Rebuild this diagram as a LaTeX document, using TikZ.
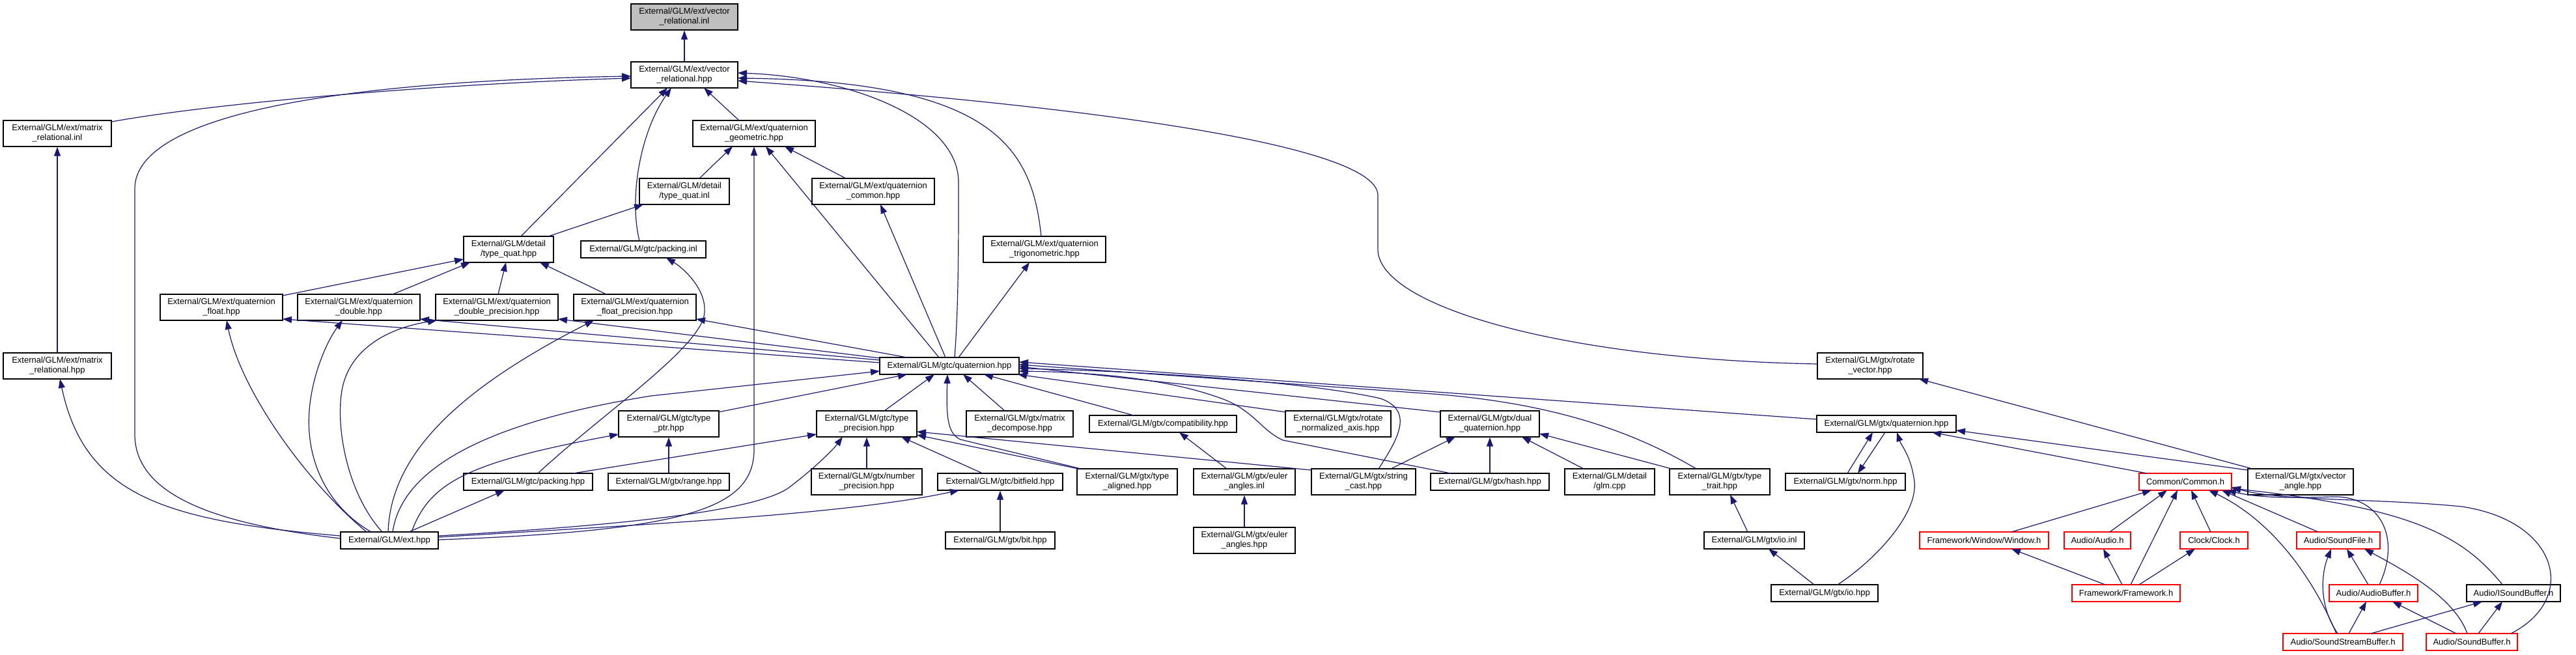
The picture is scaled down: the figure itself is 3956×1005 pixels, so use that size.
\documentclass[tikz,border=0pt]{standalone}
\usepackage{fontspec}
\setmainfont{Liberation Sans}
\usetikzlibrary{arrows.meta,calc}
\definecolor{edgec}{RGB}{25,25,112}
\definecolor{rootfill}{RGB}{191,191,191}
\begin{document}
\begin{tikzpicture}[x=1pt,y=-1pt,
  box/.style={draw=black, line width=1.4pt, fill=white, inner sep=0pt, align=center, font=\fontsize{13}{15}\selectfont, text=black},
  rbox/.style={box, draw=red},
  sz/.style 2 args={minimum width=#1, minimum height=#2},
  dep/.style={draw=edgec, line width=1.2pt, -{Triangle[length=14pt,width=10pt]}}]
\fill[white] (0,0) rectangle (3956,1005);
\useasboundingbox (0,0) rectangle (3956,1005);
% nodes
\node[box,sz={164}{40},fill=rootfill] (vri) at (1051,26) {External/GLM/ext/vector\\\_relational.inl};
\node[box,sz={164}{40}] (vrh) at (1051,115) {External/GLM/ext/vector\\\_relational.hpp};
\node[box,sz={166}{40}] (mri) at (88,205) {External/GLM/ext/matrix\\\_relational.inl};
\node[box,sz={166}{40}] (mrh) at (88,562) {External/GLM/ext/matrix\\\_relational.hpp};
\node[box,sz={188}{40}] (qgeo) at (1158,205) {External/GLM/ext/quaternion\\\_geometric.hpp};
\node[box,sz={138}{40}] (tqi) at (1051,294) {External/GLM/detail\\/type\_quat.inl};
\node[box,sz={188}{40}] (qcom) at (1341,294) {External/GLM/ext/quaternion\\\_common.hpp};
\node[box,sz={138}{40}] (tqh) at (781,383) {External/GLM/detail\\/type\_quat.hpp};
\node[box,sz={192}{26}] (pinl) at (988,383) {External/GLM/gtc/packing.inl};
\node[box,sz={188}{40}] (qtrig) at (1604,383) {External/GLM/ext/quaternion\\\_trigonometric.hpp};
\node[box,sz={188}{40}] (qflt) at (340,472) {External/GLM/ext/quaternion\\\_float.hpp};
\node[box,sz={188}{40}] (qdbl) at (551,472) {External/GLM/ext/quaternion\\\_double.hpp};
\node[box,sz={188}{40}] (qdp) at (763,472) {External/GLM/ext/quaternion\\\_double\_precision.hpp};
\node[box,sz={188}{40}] (qfp) at (975,472) {External/GLM/ext/quaternion\\\_float\_precision.hpp};
\node[box,sz={214}{26}] (gq) at (1458,562) {External/GLM/gtc/quaternion.hpp};
\node[box,sz={162}{40}] (rotv) at (2872,562) {External/GLM/gtx/rotate\\\_vector.hpp};
\node[box,sz={154}{40}] (tptr) at (1027,651) {External/GLM/gtc/type\\\_ptr.hpp};
\node[box,sz={154}{40}] (tprec) at (1331,651) {External/GLM/gtc/type\\\_precision.hpp};
\node[box,sz={164}{40}] (mdec) at (1566,651) {External/GLM/gtx/matrix\\\_decompose.hpp};
\node[box,sz={226}{26}] (compat) at (1786,651) {External/GLM/gtx/compatibility.hpp};
\node[box,sz={162}{40}] (rna) at (2055,651) {External/GLM/gtx/rotate\\\_normalized\_axis.hpp};
\node[box,sz={152}{40}] (dq) at (2288,651) {External/GLM/gtx/dual\\\_quaternion.hpp};
\node[box,sz={214}{26}] (gxq) at (2897,651) {External/GLM/gtx/quaternion.hpp};
\node[box,sz={198}{26}] (pack) at (811,740) {External/GLM/gtc/packing.hpp};
\node[box,sz={186}{26}] (range) at (1027,740) {External/GLM/gtx/range.hpp};
\node[box,sz={170}{40}] (nprec) at (1331,740) {External/GLM/gtx/number\\\_precision.hpp};
\node[box,sz={192}{26}] (bitf) at (1536,740) {External/GLM/gtc/bitfield.hpp};
\node[box,sz={154}{40}] (taln) at (1731,740) {External/GLM/gtx/type\\\_aligned.hpp};
\node[box,sz={156}{40}] (eulinl) at (1911,740) {External/GLM/gtx/euler\\\_angles.inl};
\node[box,sz={160}{40}] (scast) at (2094,740) {External/GLM/gtx/string\\\_cast.hpp};
\node[box,sz={182}{26}] (hash) at (2288,740) {External/GLM/gtx/hash.hpp};
\node[box,sz={138}{40}] (glmcpp) at (2472,740) {External/GLM/detail\\/glm.cpp};
\node[box,sz={154}{40}] (ttrait) at (2641,740) {External/GLM/gtx/type\\\_trait.hpp};
\node[box,sz={184}{26}] (norm) at (2834,740) {External/GLM/gtx/norm.hpp};
\node[rbox,sz={142}{26}] (common) at (3356,740) {Common/Common.h};
\node[box,sz={162}{40}] (vang) at (3533,740) {External/GLM/gtx/vector\\\_angle.hpp};
\node[box,sz={150}{26}] (ext) at (598,830) {External/GLM/ext.hpp};
\node[box,sz={168}{26}] (bit) at (1536,830) {External/GLM/gtx/bit.hpp};
\node[box,sz={156}{40}] (eulhpp) at (1911,830) {External/GLM/gtx/euler\\\_angles.hpp};
\node[box,sz={154}{26}] (ioinl) at (2694,830) {External/GLM/gtx/io.inl};
\node[rbox,sz={198}{26}] (win) at (3047,830) {Framework/Window/Window.h};
\node[rbox,sz={102}{26}] (audio) at (3221,830) {Audio/Audio.h};
\node[rbox,sz={104}{26}] (clock) at (3400,830) {Clock/Clock.h};
\node[rbox,sz={128}{26}] (sfile) at (3591,830) {Audio/SoundFile.h};
\node[box,sz={164}{26}] (io) at (2802,911) {External/GLM/gtx/io.hpp};
\node[rbox,sz={166}{26}] (fw) at (3265,911) {Framework/Framework.h};
\node[rbox,sz={136}{26}] (abuf) at (3645,911) {Audio/AudioBuffer.h};
\node[box,sz={144}{26}] (isb) at (3860,911) {Audio/ISoundBuffer.h};
\node[rbox,sz={184}{26}] (ssb) at (3598,986) {Audio/SoundStreamBuffer.h};
\node[rbox,sz={140}{26}] (sbuf) at (3796,986) {Audio/SoundBuffer.h};
% edges
\draw[dep] (vrh.north) -- (vri.south);
\draw[dep] ($(mri)+(83,-18)$) .. controls (350,155) and (700,128) .. ($(vrh)+(-82,5)$);
\draw[dep] ($(ext)+(-75,-3)$) .. controls (330,805) and (207,760) .. (207,667) -- (207,290) .. controls (207,180) and (500,125) .. ($(vrh)+(-82,2)$);
\draw[dep] ($(ext)+(-75,-7)$) .. controls (250,800) and (130,760) .. ($(mrh)+(4,20)$);
\draw[dep] (mrh.north) -- (mri.south);
\draw[dep] ($(qgeo)+(-23,-20)$) -- ($(vrh)+(30,20)$);
\draw[dep] ($(tqh)+(19,-20)$) -- ($(vrh)+(-26,20)$);
\draw[dep] ($(pinl)+(-6,-13)$) .. controls (965,300) and (985,200) .. ($(vrh)+(-20,20)$);
\draw[dep] ($(gq)+(8,-13)$) .. controls (1472,470) and (1472,380) .. (1472,280) .. controls (1472,180) and (1300,118) .. ($(vrh)+(82,-3)$);
\draw[dep] ($(qtrig)+(-5,-20)$) .. controls (1585,230) and (1530,125) .. ($(vrh)+(82,5)$);
\draw[dep] ($(rotv)+(-81,-3)$) .. controls (2400,552) and (2116,470) .. (2116,383) -- (2116,300) .. controls (2116,225) and (1700,165) .. ($(vrh)+(82,9)$);
\draw[dep] ($(tqi)+(23,-20)$) -- ($(qgeo)+(-33,20)$);
\draw[dep] ($(qcom)+(-42,-20)$) -- ($(qgeo)+(47,20)$);
\draw[dep] ($(gq)+(-16,-13)$) -- ($(qgeo)+(18,20)$);
\draw[dep] ($(gq)+(-6,-13)$) -- ($(qcom)+(11,20)$);
\draw[dep] ($(gq)+(14,-13)$) -- ($(qtrig)+(-23,20)$);
\draw[dep] ($(ext)+(75,-1)$) .. controls (1060,815) and (1158,780) .. (1158,690) -- ($(qgeo)+(0,20)$);
\draw[dep] ($(tqh)+(61,-20)$) -- ($(tqi)+(-63,20)$);
\draw[dep] ($(qflt)+(94,-18)$) -- ($(tqh)+(-69,15)$);
\draw[dep] ($(qdbl)+(52,-20)$) -- ($(tqh)+(-59,20)$);
\draw[dep] ($(qdp)+(2,-20)$) -- ($(tqh)+(-4,20)$);
\draw[dep] ($(qfp)+(-44,-20)$) -- ($(tqh)+(48,20)$);
\draw[dep] ($(gq)+(-107,-5)$) -- ($(qflt)+(94,18)$);
\draw[dep] ($(gq)+(-107,-9)$) -- ($(qdbl)+(94,18)$);
\draw[dep] ($(gq)+(-107,-12)$) -- ($(qdp)+(94,18)$);
\draw[dep] ($(gq)+(-65,-13)$) -- ($(qfp)+(94,18)$);
\draw[dep] ($(ext)+(-35,-13)$) .. controls (470,740) and (370,600) .. ($(qflt)+(8,20)$);
\draw[dep] ($(ext)+(-28,-13)$) .. controls (490,770) and (470,690) .. (475,630) .. controls (480,570) and (505,520) .. ($(qdbl)+(-25,20)$);
\draw[dep] ($(ext)+(-11,-13)$) .. controls (535,760) and (515,660) .. (525,600) .. controls (535,540) and (590,505) .. ($(qdp)+(-92,20)$);
\draw[dep] ($(ext)+(-2,-13)$) .. controls (600,700) and (700,600) .. ($(qfp)+(-63,20)$);
\draw[dep] ($(ext)+(5,-13)$) .. controls (620,700) and (800,640) .. (1000,608) -- ($(gq)+(-107,8)$);
\draw[dep] ($(ext)+(30,-13)$) -- ($(pack)+(-36,13)$);
\draw[dep] ($(ext)+(34,-13)$) .. controls (660,740) and (720,710) .. ($(tptr)+(-77,16)$);
\draw[dep] ($(ext)+(75,-7)$) .. controls (900,810) and (1150,790) .. (1210,750) .. controls (1250,720) and (1280,690) .. ($(tprec)+(-37,20)$);
\draw[dep] ($(ext)+(75,-5)$) .. controls (1000,805) and (1300,790) .. ($(bitf)+(-63,13)$);
\draw[dep] ($(pack)+(15,-13)$) .. controls (920,640) and (1060,545) .. (1080,490) .. controls (1092,450) and (1050,412) .. ($(pinl)+(35,13)$);
\draw[dep] ($(pack)+(69,-13)$) -- ($(tprec)+(-77,16)$);
\draw[dep] (range.north) -- (tptr.south);
\draw[dep] ($(tptr)+(76,-18)$) -- ($(gq)+(-65,13)$);
\draw[dep] ($(tprec)+(27,-20)$) -- ($(gq)+(-23,13)$);
\draw[dep] (nprec.north) -- (tprec.south);
\draw[dep] ($(bitf)+(-27,-13)$) -- ($(tprec)+(53,20)$);
\draw[dep] (bit.north) -- (bitf.south);
\draw[dep] ($(taln)+(-75,-20)$) -- ($(tprec)+(77,17)$);
\draw[dep] ($(taln)+(-71,-20)$) -- (1475,675) .. controls (1455,666) and (1453,640) .. ($(gq)+(-3,13)$);
\draw[dep] ($(mdec)+(-23,-20)$) -- ($(gq)+(21,13)$);
\draw[dep] ($(compat)+(-45,-13)$) -- ($(gq)+(53,13)$);
\draw[dep] ($(eulinl)+(-27,-20)$) -- ($(compat)+(25,13)$);
\draw[dep] (eulhpp.north) -- (eulinl.south);
\draw[dep] ($(scast)+(-80,-18)$) -- ($(tprec)+(77,12)$);
\draw[dep] ($(scast)+(23,-20)$) .. controls (2150,670) and (2170,630) .. (2120,612) .. controls (2000,585) and (1750,570) .. ($(gq)+(107,4)$);
\draw[dep] ($(hash)+(-60,-13)$) -- (1970,676) .. controls (1935,660) and (1925,628) .. (1870,610) .. controls (1800,585) and (1700,572) .. ($(gq)+(107,8)$);
\draw[dep] ($(dq)+(-76,-18)$) -- ($(gq)+(107,1)$);
\draw[dep] ($(rna)+(-80,-18)$) -- ($(gq)+(105,13)$);
\draw[dep] ($(gxq)+(-107,-7)$) -- ($(gq)+(107,-6)$);
\draw[dep] ($(ttrait)+(-36,-20)$) .. controls (2520,670) and (2400,620) .. (2200,605) -- ($(gq)+(107,-2)$);
\draw[dep] ($(scast)+(42,-20)$) -- ($(dq)+(-53,20)$);
\draw[dep] (hash.north) -- (dq.south);
\draw[dep] ($(glmcpp)+(-40,-20)$) -- ($(dq)+(49,20)$);
\draw[dep] ($(ttrait)+(-74,-20)$) -- ($(dq)+(76,15)$);
\draw[dep] ($(ioinl)+(-10,-13)$) -- ($(ttrait)+(16,20)$);
\draw[dep] ($(io)+(-16,-13)$) -- ($(ioinl)+(22,13)$);
\draw[dep] ($(io)+(20,-13)$) .. controls (2880,860) and (2945,790) .. (2940,740) .. controls (2935,700) and (2920,685) .. ($(gxq)+(16,13)$);
\draw[dep] ($(norm)+(3,-13)$) -- ($(gxq)+(-21,13)$);
\draw[dep] ($(gxq)+(-2,13)$) -- ($(norm)+(19,-13)$);
\draw[dep] ($(common)+(-59,-13)$) -- ($(gxq)+(70,13)$);
\draw[dep] ($(vang)+(-81,-18)$) -- ($(gxq)+(107,10)$);
\draw[dep] ($(vang)+(-74,-20)$) -- ($(rotv)+(75,20)$);
\draw[dep] ($(win)+(42,-13)$) -- ($(common)+(-52,13)$);
\draw[dep] ($(audio)+(19,-13)$) -- ($(common)+(-28,13)$);
\draw[dep] ($(fw)+(7,-13)$) -- ($(common)+(-12,13)$);
\draw[dep] ($(clock)+(-5,-13)$) -- ($(common)+(9,13)$);
\draw[dep] ($(sfile)+(-31,-13)$) -- ($(common)+(56,13)$);
\draw[dep] ($(ssb)+(-10,-13)$) .. controls (3540,860) and (3470,790) .. ($(common)+(36,13)$);
\draw[dep] ($(abuf)+(9,-13)$) .. controls (3690,820) and (3650,760) .. (3580,763) .. controls (3520,765) and (3470,765) .. ($(common)+(64,13)$);
\draw[dep] ($(isb)+(-17,-13)$) .. controls (3780,820) and (3700,780) .. ($(common)+(71,10)$);
\draw[dep] ($(sbuf)+(60,-13)$) .. controls (3960,920) and (3930,800) .. (3780,778) .. controls (3650,765) and (3500,770) .. ($(common)+(71,8)$);
\draw[dep] ($(fw)+(-32,-13)$) -- ($(win)+(42,13)$);
\draw[dep] ($(fw)+(-6,-13)$) -- ($(audio)+(9,13)$);
\draw[dep] ($(fw)+(20,-13)$) -- ($(clock)+(-29,13)$);
\draw[dep] ($(ssb)+(-8,-13)$) .. controls (3560,930) and (3565,880) .. ($(sfile)+(-11,13)$);
\draw[dep] ($(abuf)+(-8,-13)$) -- ($(sfile)+(13,13)$);
\draw[dep] ($(sbuf)+(-7,-13)$) .. controls (3770,920) and (3700,880) .. ($(sfile)+(40,13)$);
\draw[dep] ($(ssb)+(9,-13)$) -- ($(abuf)+(-11,13)$);
\draw[dep] ($(sbuf)+(-24,-13)$) -- ($(abuf)+(29,13)$);
\draw[dep] ($(ssb)+(43,-13)$) -- ($(isb)+(-48,13)$);
\draw[dep] ($(sbuf)+(10,-13)$) -- ($(isb)+(-17,13)$);
\end{tikzpicture}
\end{document}
